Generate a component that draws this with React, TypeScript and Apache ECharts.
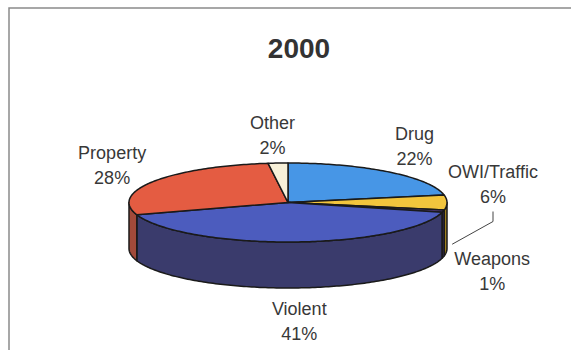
import React, { useEffect, useRef } from "react";
import * as echarts from "echarts";

const categories = ["Drug", "OWI/Traffic", "Weapons", "Violent", "Property", "Other"];
const values = [22, 6, 1, 41, 28, 2];
const titleText = "2000";

const topColors = ["#4796e6", "#f2c53d", "#5a3f86", "#4c5cbe", "#e45c42", "#f7f0d8"];
const sideColors = ["#2f6aa8", "#a08020", "#3e2c5c", "#3a3b6c", "#a24a3a", "#b0a890"];
const labelNudge = [
  [-1, -1],
  [5, -18],
  [9, 43],
  [5, 2],
  [-7, 1],
  [-3, 4],
];

const CX = 288;
const CY = 202.5;
const RX = 159;
const RY = 39.5;
const DEPTH = 46;
const LRX = 200;
const LRY = 71;
const FONT = "Liberation Sans, Arial, Helvetica, sans-serif";

const total = values.reduce((a, b) => a + b, 0);
function sliceAngles(i: number) {
  let s = 0;
  for (let k = 0; k < i; k++) s += values[k];
  const a0 = (s / total) * Math.PI * 2;
  const a1 = ((s + values[i]) / total) * Math.PI * 2;
  return [a0, a1];
}
function pt(a: number, dy = 0) {
  return [CX + RX * Math.sin(a), CY - RY * Math.cos(a) + dy];
}
function arc(a0: number, a1: number, dy = 0) {
  const pts: number[][] = [];
  const n = Math.max(2, Math.ceil(Math.abs(a1 - a0) / (Math.PI / 180)));
  for (let k = 0; k <= n; k++) {
    pts.push(pt(a0 + ((a1 - a0) * k) / n, dy));
  }
  return pts;
}
function labelPos(i: number) {
  const [a0, a1] = sliceAngles(i);
  const m = (a0 + a1) / 2;
  const c = Math.cos(m);
  const x = CX + LRX * Math.sin(m) + labelNudge[i][0];
  const y = CY - LRY * c + (c < 0 ? -c * DEPTH : 0) + labelNudge[i][1];
  return [x, y];
}

export default function App() {
  const ref = useRef<HTMLDivElement>(null);
  useEffect(() => {
    if (!ref.current) return;
    const chart = echarts.init(ref.current, undefined, { renderer: "svg" });
    const data = values.map((v, i) => ({ name: categories[i], value: v }));
    chart.setOption({
      animation: false,
      backgroundColor: "#ffffff",
      title: {
        text: titleText,
        left: 294,
        top: 29,
        textAlign: "center",
        textStyle: { fontFamily: FONT, fontSize: 28, fontWeight: "bold", color: "#333333" },
      },
      graphic: [
        {
          type: "rect",
          shape: { x: 9, y: 8, width: 700, height: 500 },
          style: { fill: "none", stroke: "#8a8a8a", lineWidth: 1.5 },
          silent: true,
        },
      ],
      series: [
        {
          type: "custom",
          name: "sides",
          coordinateSystem: "none",
          z: 2,
          data,
          renderItem: (params: any) => {
            const i = params.dataIndex;
            const [a0, a1] = sliceAngles(i);
            const s0 = Math.max(a0, Math.PI / 2);
            const s1 = Math.min(a1, (Math.PI * 3) / 2);
            if (s1 <= s0) return { type: "group", children: [] };
            const pts = arc(s0, s1).concat(arc(s1, s0, DEPTH));
            return {
              type: "polygon",
              shape: { points: pts },
              style: { fill: sideColors[i], stroke: "#1a1a1a", lineWidth: 1.5, lineJoin: "round" },
            };
          },
        },
        {
          type: "custom",
          name: "tops",
          coordinateSystem: "none",
          z: 3,
          data,
          renderItem: (params: any, api: any) => {
            const i = params.dataIndex;
            const [a0, a1] = sliceAngles(i);
            const pts = [[CX, CY]].concat(arc(a0, a1));
            const [lx, ly] = labelPos(i);
            const children: any[] = [
              {
                type: "polygon",
                shape: { points: pts },
                style: { fill: topColors[i], stroke: "#1a1a1a", lineWidth: 1.5, lineJoin: "round" },
              },
              {
                type: "text",
                style: {
                  text: categories[i] + "\n" + api.value(0) + "%",
                  x: lx,
                  y: ly,
                  textAlign: "center",
                  textVerticalAlign: "middle",
                  align: "center",
                  verticalAlign: "middle",
                  font: `18px ${FONT}`,
                  fontSize: 18,
                  fontFamily: FONT,
                  lineHeight: 25,
                  fill: "#383838",
                },
              },
            ];
            if (i === 1) {
              const [w0, w1] = sliceAngles(2);
              const wm = (w0 + w1) / 2;
              const p = pt(wm, DEPTH * 0.72);
              children.push({
                type: "polyline",
                shape: {
                  points: [
                    [lx, ly + 27],
                    [lx, ly + 37],
                    [p[0] + 9, p[1]],
                  ],
                },
                style: { stroke: "#444444", lineWidth: 1, fill: "none" },
              });
            }
            return { type: "group", children };
          },
        },
      ],
    });
    return () => chart.dispose();
  }, []);
  return (
    <div
      ref={ref}
      style={{ position: "fixed", left: 0, top: 0, width: 571, height: 350 }}
    />
  );
}
